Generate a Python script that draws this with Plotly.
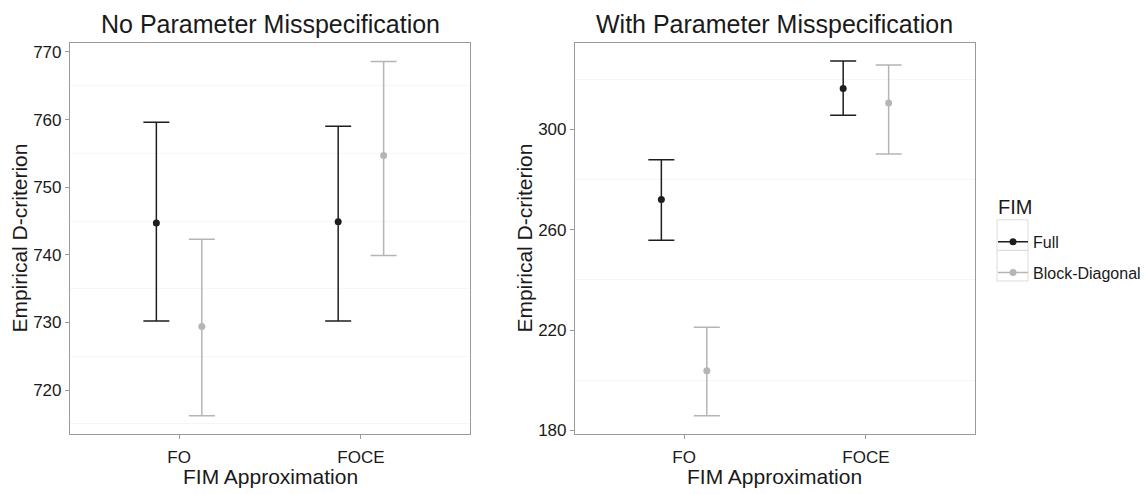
import plotly.graph_objects as go

W, H = 1148, 494

categories = ["FO", "FOCE"]
groups = ["Full", "Block-Diagonal"]
group_colors = {"Full": "#1e1e1e", "Block-Diagonal": "#b5b5b5"}

# Panel 1: No Parameter Misspecification
p1_mean = {"Full": [744.7, 744.9], "Block-Diagonal": [729.4, 754.7]}
p1_low = {"Full": [730.2, 730.2], "Block-Diagonal": [716.2, 739.9]}
p1_high = {"Full": [759.6, 759.0], "Block-Diagonal": [742.3, 768.6]}

# Panel 2: With Parameter Misspecification
p2_mean = {"Full": [272.0, 316.2], "Block-Diagonal": [203.8, 310.5]}
p2_low = {"Full": [255.8, 305.6], "Block-Diagonal": [185.9, 290.1]}
p2_high = {"Full": [287.8, 327.2], "Block-Diagonal": [221.1, 325.6]}

p1_ticks = [720, 730, 740, 750, 760, 770]
p1_minor = [715, 725, 735, 745, 755, 765]
p2_ticks = [180, 220, 260, 300]
p2_minor = [200, 240, 280, 320]

titles = ["No Parameter Misspecification", "With Parameter Misspecification"]
y_title = "Empirical D-criterion"
x_title = "FIM Approximation"
legend_title = "FIM"

FONT = "Liberation Sans, Arial, Helvetica, sans-serif"
TXT = "#1a1a1a"
dodge = 0.125

fig = go.Figure()

panels = [(p1_mean, p1_low, p1_high, "x", "y"), (p2_mean, p2_low, p2_high, "x2", "y2")]
for mean, low, high, xa, ya in panels:
    for gi, g in enumerate(groups):
        off = -dodge if gi == 0 else dodge
        xs = [i + 1 + off for i in range(len(categories))]
        fig.add_trace(go.Scatter(
            x=xs, y=mean[g], xaxis=xa, yaxis=ya, mode="markers",
            marker=dict(color=group_colors[g], size=7),
            error_y=dict(type="data", symmetric=False,
                         array=[h - m for h, m in zip(high[g], mean[g])],
                         arrayminus=[m - l for m, l in zip(mean[g], low[g])],
                         color=group_colors[g], thickness=1.5, width=13),
            showlegend=False, hoverinfo="skip"))

# legend entries
for g in groups:
    fig.add_trace(go.Scatter(x=[None], y=[None], mode="lines+markers", name=g,
                             legendgroup=g,
                             line=dict(color=group_colors[g], width=1.5),
                             marker=dict(color=group_colors[g], size=7),
                             xaxis="x2", yaxis="y2"))

ydom = [(494 - 440) / H, (494 - 44) / H]
axis_common = dict(showline=True, mirror=True, linecolor="#9a9a9a", linewidth=1.2,
                   ticks="outside", ticklen=4, tickcolor="#9a9a9a", tickwidth=1,
                   tickfont=dict(size=17, color=TXT, family=FONT),
                   zeroline=False)
fig.update_layout(
    width=W, height=H, margin=dict(l=0, r=0, t=0, b=0),
    paper_bgcolor="white", plot_bgcolor="white",
    font=dict(family=FONT, color=TXT),
    xaxis=dict(domain=[70 / W, 470 / W], range=[0.4, 2.6], tickvals=[1, 2],
               ticktext=categories, showgrid=False, anchor="y", ticklabelstandoff=4,
               **axis_common),
    yaxis=dict(domain=ydom, range=[713.54, 771.27], tickvals=p1_ticks,
               showgrid=False, anchor="x",
               minor=dict(tickvals=p1_minor, showgrid=True, gridcolor="#f6f6f6", gridwidth=1, ticks=""),
               **axis_common),
    xaxis2=dict(domain=[575 / W, 975 / W], range=[0.4, 2.6], tickvals=[1, 2],
                ticktext=categories, showgrid=False, anchor="y2", ticklabelstandoff=4,
                **axis_common),
    yaxis2=dict(domain=ydom, range=[178.7, 334.2], tickvals=p2_ticks,
                showgrid=False, anchor="x2",
                minor=dict(tickvals=p2_minor, showgrid=True, gridcolor="#f6f6f6", gridwidth=1, ticks=""),
                **axis_common),
    legend=dict(x=993 / W, xanchor="left", y=(494 - 228) / H, yanchor="top",
                font=dict(size=16, color=TXT), tracegroupgap=7, itemwidth=30,
                bgcolor="rgba(0,0,0,0)"),
    showlegend=True,
)

# legend key boxes
shapes = []
for y0, y1 in [(223, 254), (254, 285)]:
    shapes.append(dict(type="rect", xref="paper", yref="paper",
                       x0=997 / W, x1=1028 / W, y0=(494 - y1) / H, y1=(494 - y0) / H,
                       line=dict(color="#dcdcdc", width=1), fillcolor="rgba(0,0,0,0)", layer="below"))
fig.update_layout(shapes=shapes)

annots = [dict(text=legend_title, x=996 / W, y=(494 - 210) / H, xref="paper", yref="paper",
               showarrow=False, font=dict(size=20, color=TXT), xanchor="left", yanchor="middle")]
for cx, t in [((70 + 470) / 2, titles[0]), ((575 + 975) / 2, titles[1])]:
    annots.append(dict(text=t, x=cx / W, y=(494 - 24) / H, xref="paper", yref="paper",
                       showarrow=False, font=dict(size=25, color=TXT), xanchor="center", yanchor="middle"))
    annots.append(dict(text=x_title, x=cx / W, y=(494 - 483) / H, xref="paper", yref="paper",
                       showarrow=False, font=dict(size=21, color=TXT), xanchor="center", yanchor="middle"))
for lx in [20, 525]:
    annots.append(dict(text=y_title, x=lx / W, y=(494 - 242) / H, xref="paper", yref="paper",
                       showarrow=False, textangle=-90, font=dict(size=21, color=TXT),
                       xanchor="center", yanchor="middle"))
fig.update_layout(annotations=annots)

fig.write_html("out.html")
